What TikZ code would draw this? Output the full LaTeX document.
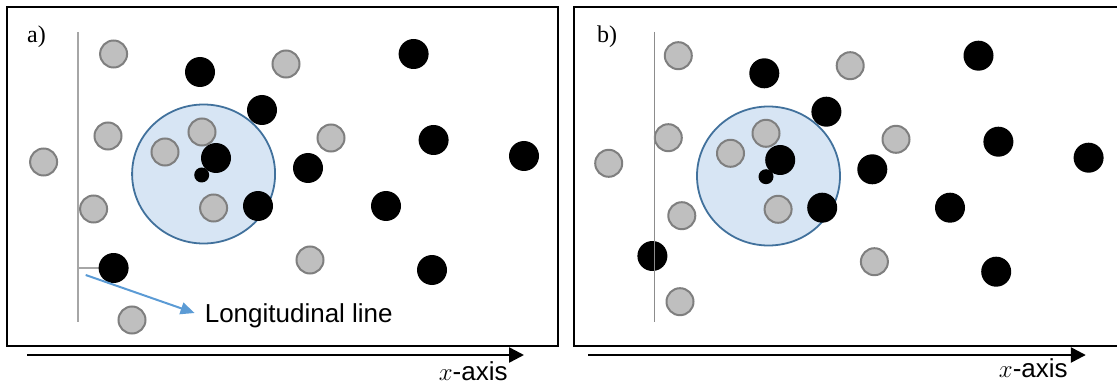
\documentclass[tikz,border=0pt]{standalone}
\usepackage{fontspec}
\setmainfont{Liberation Serif}
\newfontfamily\arialf{Liberation Sans}
\usetikzlibrary{arrows.meta,shapes.geometric}
\definecolor{pgray}{HTML}{BFBFBF}
\definecolor{pgrayb}{HTML}{7F7F7F}
\definecolor{zonefill}{HTML}{D7E5F4}
\definecolor{zonedraw}{HTML}{41719C}
\definecolor{arrowblue}{HTML}{5B9BD5}
\definecolor{linega}{HTML}{A6A6A6}
\definecolor{linegb}{HTML}{8C8C8C}
\begin{document}
\begin{tikzpicture}[x=1pt,y=-1pt,
  gp/.style={circle,draw=pgrayb,fill=pgray,line width=2pt,minimum size=27pt,inner sep=0pt},
  bp/.style={circle,fill=black,minimum size=30pt,inner sep=0pt},
  sbp/.style={circle,fill=black,minimum size=15pt,inner sep=0pt},
  zone/.style={ellipse,draw=zonedraw,fill=zonefill,line width=1.8pt,minimum width=143pt,minimum height=139pt,inner sep=0pt},
  frameline/.style={line width=2pt},
  axisarrow/.style={line width=2.5pt,-{Triangle[length=15pt,width=15pt]}},
  longline/.style={line width=1.3pt},
  lbl/.style={font=\arialf\fontsize{26}{30}\selectfont,inner sep=0pt,anchor=base west},
  plbl/.style={font=\fontsize{24}{28}\selectfont,inner sep=0pt,anchor=base west},
  bluearrow/.style={draw=arrowblue,line width=2pt,-{Triangle[length=14pt,width=12pt]}}
]
\useasboundingbox (0,0) rectangle (1117,385);

% ---------------- panel a ----------------
\draw[frameline] (7,7.5) rectangle (557.5,345.5);
\node[plbl] (la) at (27,43) {a)};
\draw[longline,draw=linega] (77.9,32) -- (77.9,322);
\draw[longline,draw=linega] (77.9,268) -- (100,268);
\node[zone] (za) at (203.6,174) {};
\node[gp] (ga1) at (113.6,54) {};
\node[gp] (ga2) at (286,64) {};
\node[gp] (ga3) at (108,136) {};
\node[gp] (ga4) at (202,132) {};
\node[gp] (ga5) at (165,152) {};
\node[gp] (ga6) at (331,138) {};
\node[gp] (ga7) at (43.6,162) {};
\node[gp] (ga8) at (93.6,209) {};
\node[gp] (ga9) at (213.6,208) {};
\node[gp] (ga10) at (310,260) {};
\node[gp] (ga11) at (132,320) {};
\node[bp] (ba1) at (200,72) {};
\node[bp] (ba2) at (413.6,54) {};
\node[bp] (ba3) at (262,110) {};
\node[bp] (ba4) at (433.6,140) {};
\node[bp] (ba5) at (524,156) {};
\node[bp] (ba6) at (216,158) {};
\node[sbp] (ba7) at (201.7,175) {};
\node[bp] (ba8) at (308,168) {};
\node[bp] (ba9) at (386,206) {};
\node[bp] (ba10) at (258,206) {};
\node[bp] (ba11) at (113.6,268) {};
\node[bp] (ba12) at (432,270) {};
\coordinate (ls) at (85.7,275);
\node[lbl] (ll) at (204.6,322) {Longitudinal line};
\draw[bluearrow] (ls) -- (194.6,313);
\draw[axisarrow] (27,355) -- (524,355);
\node[lbl] (xa) at (438.6,380) {$x$-axis};

% ---------------- panel b ----------------
\draw[frameline] (1120,7.5) -- (574.2,7.5) -- (574.2,345.5) -- (1120,345.5);
\node[plbl] (lb) at (597,43) {b)};
\node[zone] (zb) at (768.5,176) {};
\node[gp] (gb1) at (678.3,55.7) {};
\node[gp] (gb2) at (850.2,65.7) {};
\node[gp] (gb3) at (668.3,137.7) {};
\node[gp] (gb4) at (766,133.3) {};
\node[gp] (gb5) at (730.5,153.3) {};
\node[gp] (gb6) at (896,139.3) {};
\node[gp] (gb7) at (608.7,163.3) {};
\node[gp] (gb8) at (681.8,215.7) {};
\node[gp] (gb9) at (778.1,209.3) {};
\node[gp] (gb10) at (874.4,261.7) {};
\node[gp] (gb11) at (680,301.7) {};
\node[bp] (bb1) at (764.3,73.3) {};
\node[bp] (bb2) at (978.5,55.7) {};
\node[bp] (bb3) at (826.4,111.7) {};
\node[bp] (bb4) at (998.4,141.7) {};
\node[bp] (bb5) at (1088.6,157.7) {};
\node[bp] (bb6) at (780.2,160) {};
\node[sbp] (bb7) at (766,176.7) {};
\node[bp] (bb8) at (872.3,169.3) {};
\node[bp] (bb9) at (950,207.7) {};
\node[bp] (bb10) at (822.2,207.7) {};
\node[bp] (bb11) at (652.4,256) {};
\node[bp] (bb12) at (996.2,271.7) {};
\draw[line width=1pt,draw=linegb] (654.1,32) -- (654.1,322);
\draw[axisarrow] (588.4,355) -- (1085.8,355);
\node[lbl] (xb) at (998.7,377) {$x$-axis};
\end{tikzpicture}
\end{document}
